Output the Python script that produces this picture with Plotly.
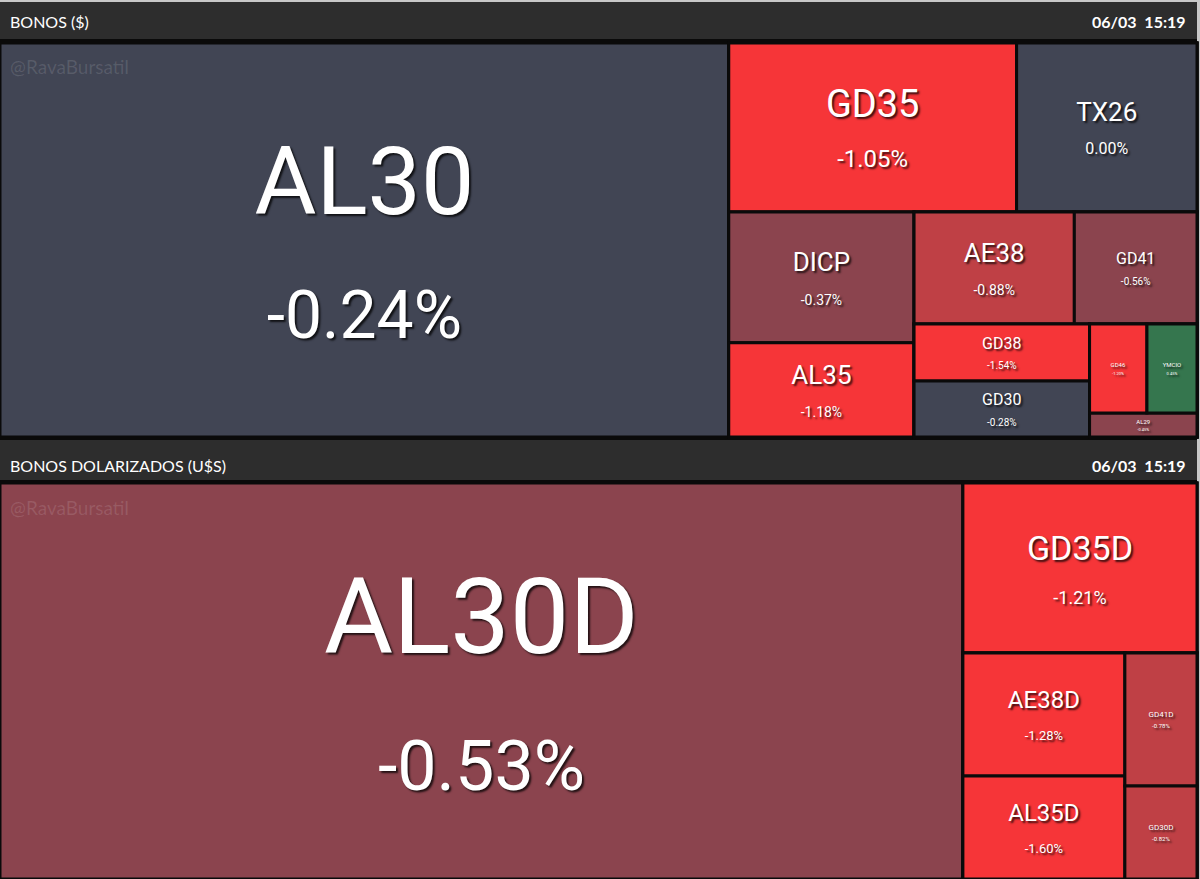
import plotly.graph_objects as go

# ---------------- DATA ----------------
# Panel 1: BONOS ($)
tickers_pesos = ["AL30", "GD35", "TX26", "DICP", "AL35", "AE38", "GD41", "GD38", "GD30", "GD46", "YMCIO", "AL29"]
volume_pesos = [286400, 48500, 30400, 24200, 17400, 17900, 13700, 10000, 9800, 5100, 4450, 2570]
change_pesos = [-0.24, -1.05, 0.00, -0.37, -1.18, -0.88, -0.56, -1.54, -0.28, -1.20, 0.45, -0.45]

# Panel 2: BONOS DOLARIZADOS (U$S)
tickers_usd = ["AL30D", "GD35D", "AE38D", "AL35D", "GD41D", "GD30D"]
volume_usd = [381300, 39800, 19900, 16700, 9600, 6700]
change_usd = [-0.53, -1.21, -1.28, -1.60, -0.78, -0.82]

titles = ["BONOS ($)", "BONOS DOLARIZADOS (U$S)"]
stamp = "06/03\u00a0\u00a015:19"
watermark = "@RavaBursatil"

# ---------------- LAYOUT STRUCTURE (grouping only) ----------------
group_pesos = ["AL30", [["GD35", "TX26"], [["DICP", "AL35"], [["AE38", "GD41"], [["GD38", "GD30"], [["GD46", "YMCIO"], "AL29"]]]]]]
group_usd = ["AL30D", ["GD35D", [["AE38D", "AL35D"], ["GD41D", "GD30D"]]]]

label_size_pesos = {"AL30": 95, "GD35": 38, "TX26": 26, "DICP": 26, "AL35": 26, "AE38": 26,
                    "GD41": 16, "GD38": 16, "GD30": 16, "GD46": 6, "YMCIO": 6, "AL29": 6}
pct_size_pesos = {"AL30": 66, "GD35": 24, "TX26": 16, "DICP": 14, "AL35": 14, "AE38": 14,
                  "GD41": 10, "GD38": 10, "GD30": 10, "GD46": 4, "YMCIO": 4, "AL29": 4}
label_size_usd = {"AL30D": 106, "GD35D": 34, "AE38D": 24, "AL35D": 24, "GD41D": 8, "GD30D": 8}
pct_size_usd = {"AL30D": 70, "GD35D": 18, "AE38D": 13, "AL35D": 13, "GD41D": 6, "GD30D": 6}


def color_for(v):
    if v <= -1.0:
        return "#F63538"
    if v <= -0.75:
        return "#BF4045"
    if v <= -0.3:
        return "#8B444E"
    if v < 0.3:
        return "#414554"
    return "#35764E"


def build(tree, tickers, volumes, changes, lsize, psize, prefix):
    ids, labels, parents, values, colors, texts, sizes = [], [], [], [], [], [], []
    counter = [0]
    root = prefix + "root"
    ids.append(root); labels.append(" "); parents.append(""); values.append(0)
    colors.append("#0a0a0a"); texts.append(""); sizes.append(10)

    def walk(node, parent):
        if isinstance(node, str):
            i = tickers.index(node)
            ids.append(prefix + node); labels.append(node); parents.append(parent)
            values.append(volumes[i])
            colors.append(color_for(changes[i]))
            texts.append(f"{node}<br><span style='font-size:{psize[node]}px'>{changes[i]:.2f}%</span>")
            sizes.append(lsize[node])
        else:
            counter[0] += 1
            gid = f"{prefix}g{counter[0]}"
            if parent is not None:
                ids.append(gid); labels.append(" "); parents.append(parent); values.append(0)
                colors.append("#0a0a0a"); texts.append(""); sizes.append(10)
            else:
                gid = root
            for ch in node:
                walk(ch, gid)

    walk(tree, None)
    return ids, labels, parents, values, colors, texts, sizes


W, H = 1200, 879


def py(px):
    return 1 - px / H


fig = go.Figure()

panels = [
    (group_pesos, tickers_pesos, volume_pesos, change_pesos, label_size_pesos, pct_size_pesos, "p_", 43, 437),
    (group_usd, tickers_usd, volume_usd, change_usd, label_size_usd, pct_size_usd, "u_", 483, 879),
]

for tree, tk, vol, chg, ls, ps, prefix, top, bottom in panels:
    ids, labels, parents, values, colors, texts, sizes = build(tree, tk, vol, chg, ls, ps, prefix)
    fig.add_trace(go.Treemap(
        ids=ids, labels=labels, parents=parents, values=values, text=texts,
        textinfo="text", branchvalues="remainder", sort=False,
        tiling=dict(packing="slice-dice", pad=0),
        marker=dict(colors=colors, line=dict(color="#0a0a0a", width=3),
                    pad=dict(t=0, l=0, r=0, b=0), depthfade=False),
        pathbar=dict(visible=False),
        textposition="middle center",
        textfont=dict(family="Roboto", color="white", size=sizes,
                      shadow="2px 2px 2px rgba(0,0,0,0.75)"),
        hoverinfo="skip",
        domain=dict(x=[0, 1197 / W], y=[py(bottom), py(top)]),
    ))

shapes = [
    dict(type="rect", xref="paper", yref="paper", x0=0, x1=1, y0=py(2), y1=py(0),
         fillcolor="#c8c8c8", line=dict(width=0), layer="below"),
    dict(type="rect", xref="paper", yref="paper", x0=1197 / W, x1=1, y0=0, y1=1,
         fillcolor="#c8c8c8", line=dict(width=0), layer="below"),
    dict(type="rect", xref="paper", yref="paper", x0=0, x1=1197 / W, y0=py(39), y1=py(2),
         fillcolor="#2d2d2d", line=dict(width=0), layer="below"),
    dict(type="rect", xref="paper", yref="paper", x0=0, x1=1197 / W, y0=py(480), y1=py(440),
         fillcolor="#2d2d2d", line=dict(width=0), layer="below"),
]

annotations = []
for title, yc, ywm in [(titles[0], 22, 67), (titles[1], 465, 507)]:
    annotations.append(dict(text=title, x=8 / W, y=py(yc), xref="paper", yref="paper",
                            xanchor="left", yanchor="middle", showarrow=False,
                            font=dict(family="Lato", size=16, color="white")))
    annotations.append(dict(text=stamp, x=1188 / W, y=py(yc), xref="paper", yref="paper",
                            xanchor="right", yanchor="middle", showarrow=False,
                            font=dict(family="Lato", size=16, color="white", weight="bold")))
    annotations.append(dict(text=watermark, x=8 / W, y=py(ywm), xref="paper", yref="paper",
                            xanchor="left", yanchor="middle", showarrow=False,
                            font=dict(family="Lato", size=19, color="rgba(255,255,255,0.12)")))

fig.update_layout(
    width=W, height=H,
    margin=dict(l=0, r=0, t=0, b=0),
    paper_bgcolor="#0a0a0a",
    shapes=shapes,
    annotations=annotations,
    showlegend=False,
    hovermode=False,
)

fig.write_html("out.html", config={"displayModeBar": False},
               post_script="document.body.style.margin='0';")
